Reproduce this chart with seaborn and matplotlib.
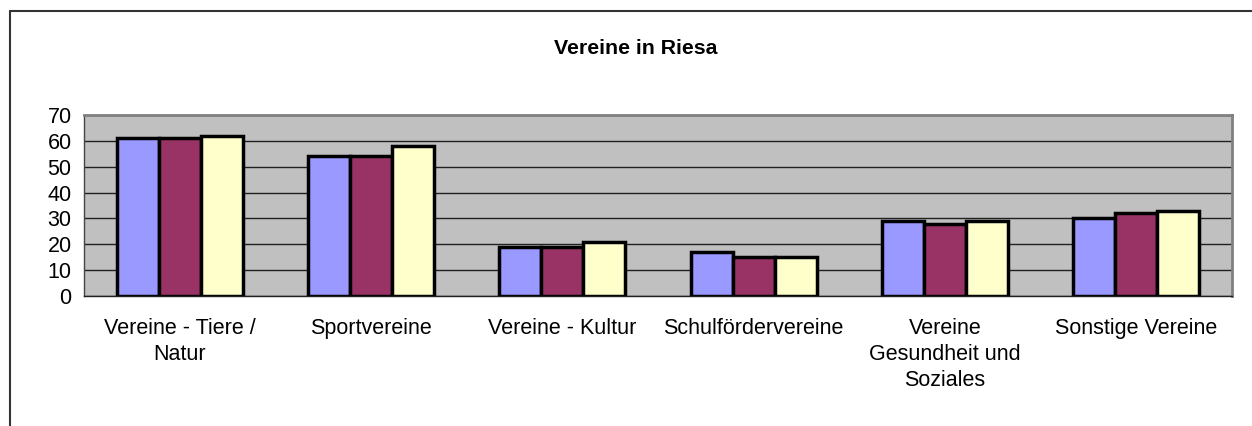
import matplotlib.pyplot as plt
import pandas as pd
import seaborn as sns
from matplotlib.lines import Line2D

# Data
categories = ['Vereine - Tiere /\nNatur', 'Sportvereine', 'Vereine - Kultur',
              'Schulfördervereine', 'Vereine\nGesundheit und\nSoziales',
              'Sonstige Vereine']
series_names = ['Reihe 1', 'Reihe 2', 'Reihe 3']
series_1 = [61, 54, 19, 17, 29, 30]
series_2 = [61, 54, 19, 15, 28, 32]
series_3 = [62, 58, 21, 15, 29, 33]
colors = ['#9999FF', '#993366', '#FFFFCC']

df = pd.DataFrame({
    'Kategorie': categories * 3,
    'Reihe': [s for s in series_names for _ in categories],
    'Anzahl': series_1 + series_2 + series_3,
})

sns.set_style('white')
plt.rcParams['font.family'] = ['Liberation Sans', 'DejaVu Sans']
plt.rcParams['text.color'] = 'black'
plt.rcParams['xtick.color'] = 'black'
plt.rcParams['ytick.color'] = 'black'

fig = plt.figure(figsize=(12.52, 4.26), dpi=100)
ax = fig.add_axes([0.0671, 0.305, 0.9169, 0.425])

sns.barplot(data=df, x='Kategorie', y='Anzahl', hue='Reihe', palette=colors,
            saturation=1, width=0.66, gap=0, edgecolor='black',
            linewidth=2.5, legend=False, ax=ax)

ax.set_facecolor('#C0C0C0')
ax.set_ylim(0, 70)
ax.set_xlim(-0.5, len(categories) - 0.5)
ax.set_yticks(range(0, 71, 10))
ax.yaxis.grid(True, color='#202020', linewidth=1)
ax.set_axisbelow(True)

# category ticks sit between the groups, as in Excel
ax.set_xticks(range(len(categories)))
ax.set_xticklabels(categories, fontsize=15.5, linespacing=1.3)
ax.tick_params(axis='x', length=0, pad=16)
ax.set_xticks([i - 0.5 for i in range(len(categories) + 1)], minor=True)
ax.tick_params(axis='x', which='minor', direction='out', length=6,
               width=1, color='#444444')
ax.tick_params(axis='y', direction='out', length=6, width=1,
               color='#444444', labelsize=15.5, pad=3)
ax.set_xlabel('')
ax.set_ylabel('')

for side in ['top', 'right']:
    ax.spines[side].set_color('#808080')
    ax.spines[side].set_linewidth(2)
ax.spines['left'].set_color('#444444')
ax.spines['bottom'].set_color('#202020')
ax.spines['left'].set_linewidth(1)
ax.spines['bottom'].set_linewidth(1)

fig.text(0.508, 0.886, 'Vereine in Riesa', ha='center', va='center',
         fontsize=15.3, fontweight='bold')

# chart area frame (cut off at the right and bottom edges)
fig.add_artist(Line2D([10 / 1252, 1], [1 - 11 / 426, 1 - 11 / 426],
                      color='#333333', linewidth=1.5,
                      transform=fig.transFigure))
fig.add_artist(Line2D([10 / 1252, 10 / 1252], [0, 1 - 11 / 426],
                      color='#333333', linewidth=1.5,
                      transform=fig.transFigure))

fig.savefig('out.png', dpi=100)
plt.close(fig)
